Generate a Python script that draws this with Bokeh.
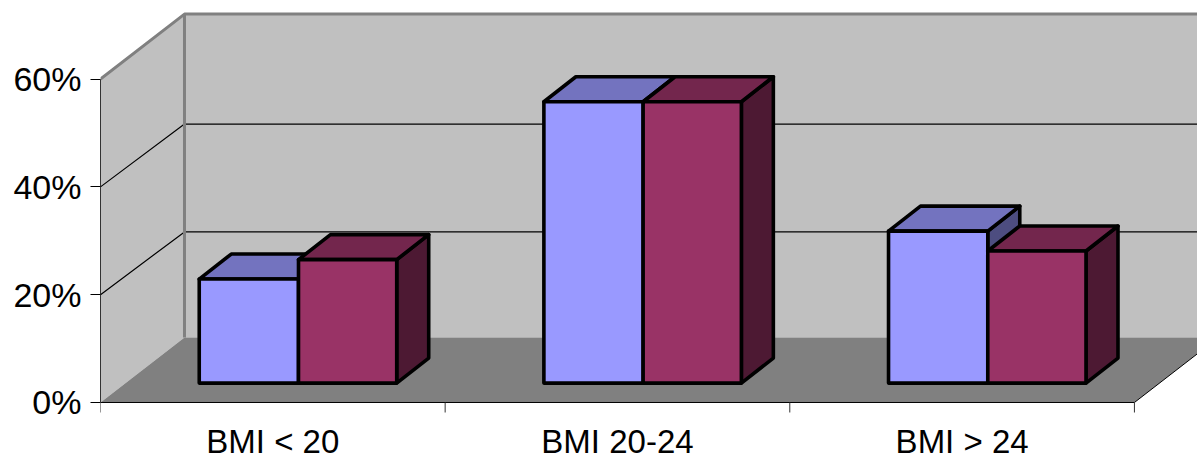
from bokeh.embed import file_html
from bokeh.resources import INLINE
from bokeh.plotting import figure
from bokeh.models import Range1d, FixedTicker
from bokeh.core.properties import value

categories = ["BMI < 20", "BMI 20-24", "BMI > 24"]
series_a = [19.3, 52.2, 28.2]
series_b = [22.9, 52.2, 24.5]
y_ticks = [0, 20, 40, 60]

DX, DY = 0.2437, 12.06        # depth of the chart box (x units, percent)
GRID_DY = 11.65               # depth rise of the inner gridlines
BAR_DX, BAR_DY = 0.0928, 4.64 # depth of a bar
BASE = 3.6                    # floor height of the bar front
TICK = 1.855                  # x tick length in percent units
LABEL_Y = -7.23               # anchor of the category labels
N = len(categories)
YTOP = y_ticks[-1]

p = figure(width=1197, height=457, output_backend="svg", toolbar_location=None,
           x_range=Range1d(0, 3.183), y_range=Range1d(-10.204, 74.58),
           x_axis_location=None,
           min_border_left=100, min_border_bottom=0, min_border_top=0, min_border_right=0,
           background_fill_color="white", outline_line_color=None)
p.grid.visible = False

GRAY = "#808080"
# walls and floor
p.patch([0, DX, DX, 0], [0, DY, YTOP + DY, YTOP], fill_color="#C0C0C0", line_color=None)
p.patch([DX, N + DX, N + DX, DX], [DY, DY, YTOP + DY, YTOP + DY], fill_color="#C0C0C0", line_color=None)
p.patch([0, N, N + DX, DX], [0, 0, DY, DY], fill_color=GRAY, line_color=None)

# gridlines
for t in y_ticks[1:-1]:
    p.line([0, DX, N + DX], [t, t + GRID_DY, t + GRID_DY], line_color="black", line_width=1.2)
p.line([N, N + DX], [0, DY], line_color="black", line_width=1)
# wall edges
p.line([0, DX, N + DX], [YTOP, YTOP + DY, YTOP + DY], line_color=GRAY, line_width=3)
p.line([DX, DX], [DY, YTOP + DY], line_color=GRAY, line_width=3)

# bars
COL = [("#9999FF", "#7373BF", "#4D4D80"), ("#993366", "#73264D", "#4D1933")]
OFFS = [(0.2865, 0.5745), (0.5745, 0.8595)]
for i in range(N):
    for vals, (front, top, side), (a, b) in zip((series_a, series_b), COL, OFFS):
        x0, x1 = i + a, i + b
        y0, y1 = BASE, BASE + vals[i]
        kw = dict(line_color="black", line_width=3.6, line_join="round")
        p.patch([x1, x1 + BAR_DX, x1 + BAR_DX, x1], [y0, y0 + BAR_DY, y1 + BAR_DY, y1], fill_color=side, **kw)
        p.patch([x0, x1, x1 + BAR_DX, x0 + BAR_DX], [y1, y1, y1 + BAR_DY, y1 + BAR_DY], fill_color=top, **kw)
        p.patch([x0, x1, x1, x0], [y0, y0, y1, y1], fill_color=front, **kw)

# y axis
ya = p.yaxis[0]
ya.ticker = FixedTicker(ticks=y_ticks)
ya.major_label_overrides = {t: f"{t}%" for t in y_ticks}
ya.bounds = (0, YTOP)
ya.major_tick_out = 10
ya.major_tick_in = 0
ya.minor_tick_out = 0
ya.minor_tick_in = 0
ya.major_label_standoff = 9
ya.major_label_text_font = "Liberation Sans"
ya.major_label_text_font_size = "34px"
ya.major_label_text_color = "black"
ya.axis_line_color = "#333333"

# category axis: baseline, ticks between categories and labels at their centres
p.line([0, N], [0, 0], line_color="black", line_width=1)
edges = list(range(N + 1))
p.segment(x0=edges, y0=[0] * len(edges), x1=edges, y1=[-TICK] * len(edges),
          line_color="#333333", line_width=1)
p.text(x=[i + 0.5 for i in range(N)], y=[LABEL_Y] * N, text=categories,
       text_align="center", text_baseline="alphabetic",
       text_font=value("Liberation Sans"), text_font_size="33px", text_color="black")

open("out.html", "w").write(file_html(p, INLINE))
